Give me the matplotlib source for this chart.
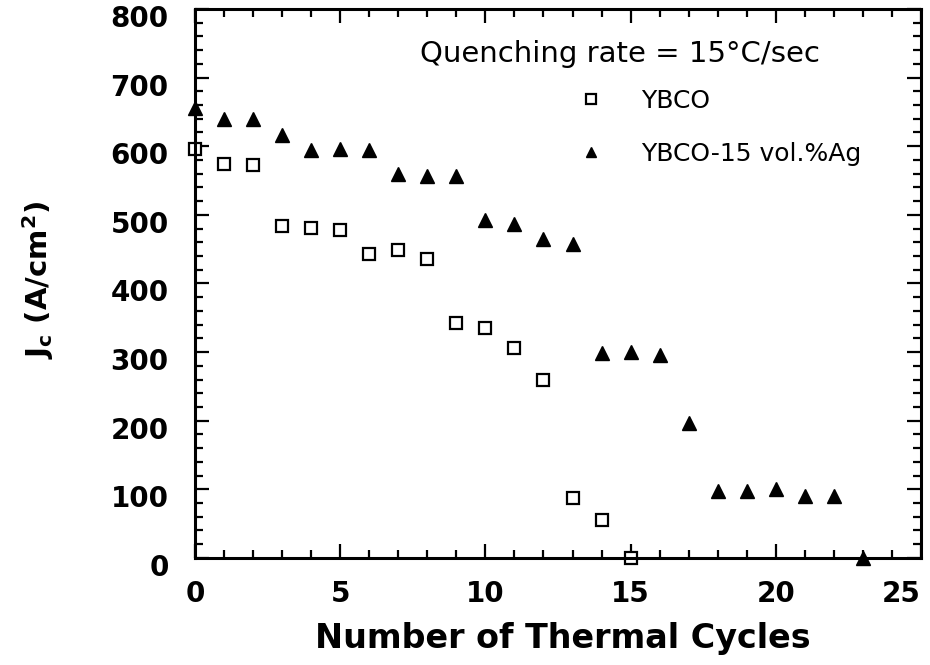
import matplotlib.pyplot as plt
from matplotlib.ticker import MultipleLocator
from matplotlib.transforms import ScaledTranslation

plt.rcParams['font.family'] = ['DejaVu Sans']
plt.rcParams['mathtext.fontset'] = 'dejavusans'

# thermal cycles and Jc values (A/cm^2)
cycles_ybco = [0, 1, 2, 3, 4, 5, 6, 7, 8, 9, 10, 11, 12, 13, 14, 15]
jc_ybco = [596, 574, 572, 484, 481, 478, 443, 449, 436, 342, 335, 306, 259, 88, 55, 0]

cycles_ag = [0, 1, 2, 3, 4, 5, 6, 7, 8, 9, 10, 11, 12, 13,
             14, 15, 16, 17, 18, 19, 20, 21, 22, 23]
jc_ag = [656, 640, 640, 616, 594, 596, 594, 559, 556, 556, 493, 487, 465, 458,
         299, 300, 296, 196, 98, 97, 101, 90, 90, 0]

x_ticks = [0, 5, 10, 15, 20, 25]
y_ticks = [0, 100, 200, 300, 400, 500, 600, 700, 800]

fig = plt.figure(figsize=(9.3, 6.65), dpi=100)
ax = fig.add_axes([0.2097, 0.161, 0.7806, 0.8255])

ax.plot(cycles_ybco, jc_ybco, linestyle='none', marker='s', markersize=9,
        markerfacecolor='white', markeredgecolor='black', markeredgewidth=1.6,
        label='YBCO', clip_on=False)
ax.plot(cycles_ag, jc_ag, linestyle='none', marker='^', markersize=10,
        color='black', label='YBCO-15 vol.%Ag', clip_on=False)

ax.set_xlim(0, 25)
ax.set_ylim(0, 800)
ax.set_xticks(x_ticks)
ax.set_yticks(y_ticks)
ax.xaxis.set_minor_locator(MultipleLocator(1))
ax.yaxis.set_minor_locator(MultipleLocator(20))

ax.tick_params(which='both', direction='in', top=True, right=True, width=1.6)
ax.tick_params(which='major', length=10)
ax.tick_params(which='minor', length=5.5)
ax.tick_params(axis='x', pad=16)
ax.tick_params(axis='y', pad=19)
for lab in ax.get_xticklabels() + ax.get_yticklabels():
    lab.set_fontsize(20)
    lab.set_fontweight('bold')
# the y labels sit a little below their ticks in the original
shift = ScaledTranslation(0, -0.07, fig.dpi_scale_trans)
for lab in ax.get_yticklabels():
    lab.set_transform(lab.get_transform() + shift)
ax.get_xticklabels()[-1].set_horizontalalignment('right')
for sp in ax.spines.values():
    sp.set_linewidth(2.2)

ax.set_xlabel('Number of Thermal Cycles', fontsize=24, fontweight='bold')
ax.xaxis.set_label_coords(0.507, -0.117)
ax.set_ylabel(r'$\mathbf{J_c}$' + ' (A/cm' + r'$^\mathbf{2}$' + ')', fontsize=21,
              fontweight='bold')
ax.yaxis.set_label_coords(-0.191, 0.506)

ax.text(0.586, 0.9035, 'Quenching rate = 15°C/sec', transform=ax.transAxes,
        fontsize=21, ha='center', va='baseline')
ax.legend(loc='center left', bbox_to_anchor=(0.489, 0.784), frameon=False,
          fontsize=18, markerscale=0.75, handletextpad=1.25, labelspacing=1.15,
          handlelength=1.5)

fig.savefig('out.png', dpi=100)
